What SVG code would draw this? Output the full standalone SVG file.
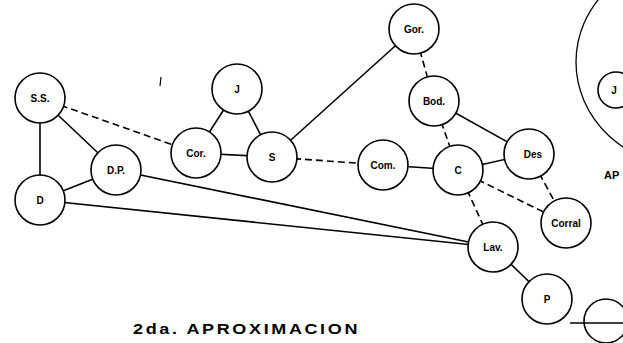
<svg xmlns="http://www.w3.org/2000/svg" width="623" height="343" viewBox="0 0 623 343">
<style>
.n circle{fill:#fff;stroke:#000;stroke-width:1.6}
.n text{font-family:"Liberation Sans",Arial,sans-serif;font-weight:bold;font-size:10px;text-anchor:middle;fill:#000}
.e line{stroke:#000;stroke-width:1.6}
.d{stroke-dasharray:7 4}
.t{font-family:"Liberation Sans",Arial,sans-serif;font-weight:bold;fill:#000}
</style>
<rect width="623" height="343" fill="#fff"/>
<ellipse cx="690" cy="62" rx="114" ry="105" fill="none" stroke="#000" stroke-width="1.3"/>
<g id="edges" class="e">
<line x1="40" y1="98" x2="40" y2="200"/>
<line x1="40" y1="98" x2="116" y2="170"/>
<line class="d" x1="40" y1="98" x2="196" y2="153"/>
<line x1="40" y1="200" x2="116" y2="170"/>
<line x1="116" y1="170" x2="493" y2="247"/>
<line x1="40" y1="200" x2="493" y2="247"/>
<line x1="237" y1="89" x2="196" y2="153"/>
<line x1="237" y1="89" x2="272" y2="157"/>
<line x1="196" y1="153" x2="272" y2="157"/>
<line x1="272" y1="157" x2="414" y2="29"/>
<line class="d" x1="272" y1="157" x2="383" y2="165"/>
<line class="d" x1="414" y1="29" x2="434" y2="101"/>
<line class="d" x1="434" y1="101" x2="458" y2="170"/>
<line x1="434" y1="101" x2="529" y2="154"/>
<line x1="383" y1="165" x2="458" y2="170"/>
<line x1="458" y1="170" x2="529" y2="154"/>
<line class="d" x1="529" y1="154" x2="566" y2="223"/>
<line class="d" x1="458" y1="170" x2="566" y2="223"/>
<line class="d" x1="458" y1="170" x2="493" y2="247"/>
<line x1="493" y1="247" x2="547" y2="299"/>
</g>
<g id="n-ss" class="n"><circle cx="40" cy="98" r="25"/><text x="40" y="102">S.S.</text></g>
<g id="n-d" class="n"><circle cx="40" cy="200" r="25"/><text x="40" y="204">D</text></g>
<g id="n-dp" class="n"><circle cx="116" cy="170" r="25"/><text x="116" y="174">D.P.</text></g>
<g id="n-j" class="n"><circle cx="237" cy="89" r="25"/><text x="237" y="93">J</text></g>
<g id="n-cor" class="n"><circle cx="196" cy="153" r="25"/><text x="196" y="157">Cor.</text></g>
<g id="n-s" class="n"><circle cx="272" cy="157" r="25"/><text x="272" y="161">S</text></g>
<g id="n-gor" class="n"><circle cx="414" cy="29" r="25"/><text x="414" y="33">Gor.</text></g>
<g id="n-bod" class="n"><circle cx="434" cy="101" r="25"/><text x="434" y="105">Bod.</text></g>
<g id="n-com" class="n"><circle cx="383" cy="165" r="25"/><text x="383" y="169">Com.</text></g>
<g id="n-c" class="n"><circle cx="458" cy="170" r="25"/><text x="458" y="174">C</text></g>
<g id="n-des" class="n"><circle cx="529" cy="154" r="25"/><text x="533" y="158">Des</text></g>
<g id="n-corral" class="n"><circle cx="566" cy="223" r="25"/><text x="566" y="227">Corral</text></g>
<g id="n-lav" class="n"><circle cx="493" cy="247" r="25"/><text x="493" y="251">Lav.</text></g>
<g id="n-p" class="n"><circle cx="547" cy="299" r="25"/><text x="547" y="303">P</text></g>
<g id="n-j2" class="n"><circle cx="616" cy="90" r="18"/><text x="614" y="94">J</text></g>
<text class="t" x="604" y="179" font-size="11">AP</text>
<g id="sym">
<circle cx="606" cy="321" r="22" fill="#fff" stroke="#000" stroke-width="1.6"/>
<line x1="570" y1="323" x2="623" y2="323" stroke="#000" stroke-width="1.6"/>
</g>
<line x1="161" y1="77" x2="160" y2="86" stroke="#000" stroke-width="1.2"/>
<text class="t" transform="translate(133,334) scale(1.2,1)" x="0" y="0" font-size="15" letter-spacing="2.2">2da. APROXIMACION</text>
</svg>
